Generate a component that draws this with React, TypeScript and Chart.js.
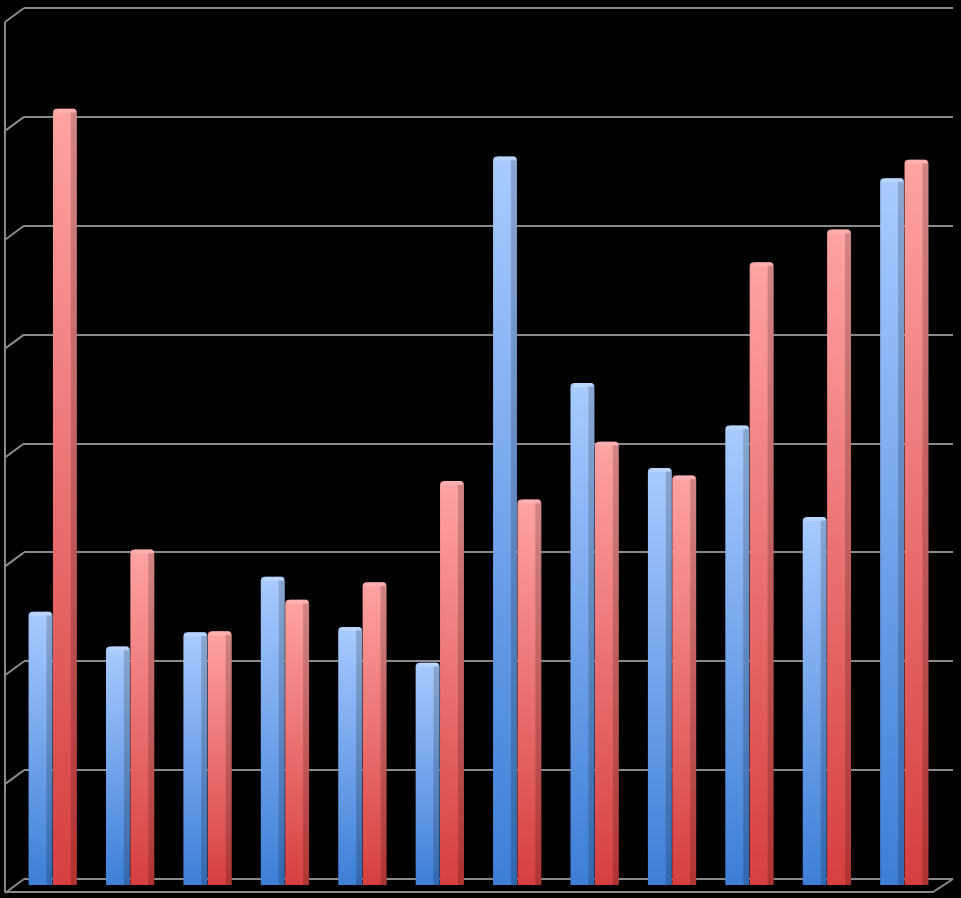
import { useEffect, useRef } from "react";
import { Chart, registerables } from "chart.js";

Chart.register(...registerables);

const categories = ["1", "2", "3", "4", "5", "6", "7", "8", "9", "10", "11", "12"];
const blueValues = [2.52, 2.2, 2.33, 2.84, 2.38, 2.05, 6.7, 4.62, 3.84, 4.23, 3.39, 6.5];
const redValues = [7.14, 3.09, 2.34, 2.63, 2.79, 3.72, 3.55, 4.08, 3.77, 5.73, 6.03, 6.67];
const yTicks = [0, 1, 2, 3, 4, 5, 6, 7, 8];

const GRID = "#8a8a8a";
const DX = -10;
const DY = 7;

function barGradient(chart: Chart, value: number, top: string, bottom: string) {
  const y = chart.scales.y;
  if (!y || !chart.chartArea) return bottom;
  const yTop = y.getPixelForValue(value);
  const yBot = y.getPixelForValue(0);
  const g = chart.ctx.createLinearGradient(0, yTop, 0, yBot);
  g.addColorStop(0, top);
  g.addColorStop(1, bottom);
  return g;
}

const wallPlugin = {
  id: "wall3d",
  beforeDraw(chart: Chart) {
    const { ctx, width, height } = chart;
    ctx.save();
    ctx.fillStyle = "#000";
    ctx.fillRect(0, 0, width, height);
    ctx.restore();
  },
  beforeDatasetsDraw(chart: Chart) {
    const { ctx, chartArea } = chart;
    const y = chart.scales.y;
    ctx.save();
    ctx.strokeStyle = GRID;
    ctx.lineWidth = 2;
    ctx.beginPath();
    // left wall
    ctx.moveTo(5, y.getPixelForValue(8) + 14);
    ctx.lineTo(5, y.getPixelForValue(0) + 13);
    for (const t of yTicks) {
      const py = y.getPixelForValue(t);
      ctx.moveTo(5, py + 14);
      ctx.lineTo(chartArea.left, py);
    }
    // floor front edge
    const by = y.getPixelForValue(0);
    ctx.moveTo(5, by + 13);
    ctx.lineTo(chartArea.right - 20, by + 13);
    ctx.lineTo(chartArea.right, by);
    ctx.stroke();
    ctx.restore();

    ctx.save();
    ctx.translate(DX, DY);
  },
  afterDatasetsDraw(chart: Chart) {
    const { ctx } = chart;
    // side faces and caps of the bars
    chart.data.datasets.forEach((_, di) => {
      const meta = chart.getDatasetMeta(di);
      meta.data.forEach((el: any) => {
        const w = el.width;
        const right = el.x + w / 2;
        const left = el.x - w / 2;
        ctx.fillStyle = "rgba(0,0,0,0.18)";
        ctx.fillRect(right - 6, el.y + 3, 6, el.base - el.y - 3);
        ctx.fillStyle = di === 0 ? "rgba(200,222,255,0.55)" : "rgba(255,190,190,0.55)";
        ctx.beginPath();
        ctx.moveTo(left + 1, el.y + 4);
        ctx.lineTo(left + 5, el.y);
        ctx.lineTo(right - 2, el.y);
        ctx.lineTo(right - 1, el.y + 4);
        ctx.closePath();
        ctx.fill();
      });
    });
    ctx.restore();
  },
};

export default function App() {
  const canvasRef = useRef<HTMLCanvasElement | null>(null);

  useEffect(() => {
    document.body.style.margin = "0";
    document.body.style.background = "#000";
    const canvas = canvasRef.current;
    if (!canvas) return;

    const chart = new Chart(canvas, {
      type: "bar",
      data: {
        labels: categories,
        datasets: [
          {
            label: "Series 1",
            data: blueValues,
            backgroundColor: (c: any) =>
              barGradient(c.chart, blueValues[c.dataIndex] ?? 0, "#a9cbff", "#3d7ed6"),
            borderRadius: { topLeft: 4, topRight: 4, bottomLeft: 0, bottomRight: 0 },
            borderSkipped: "bottom",
            categoryPercentage: 0.63,
            barPercentage: 0.98,
          },
          {
            label: "Series 2",
            data: redValues,
            backgroundColor: (c: any) =>
              barGradient(c.chart, redValues[c.dataIndex] ?? 0, "#ffa3a3", "#d63f3f"),
            borderRadius: { topLeft: 4, topRight: 4, bottomLeft: 0, bottomRight: 0 },
            borderSkipped: "bottom",
            categoryPercentage: 0.63,
            barPercentage: 0.98,
          },
        ],
      },
      options: {
        animation: false,
        responsive: true,
        maintainAspectRatio: false,
        layout: { padding: { left: 24, right: 8, top: 8, bottom: 19 } },
        plugins: {
          legend: { display: false },
          tooltip: { enabled: false },
        },
        scales: {
          x: { display: false },
          y: {
            min: 0,
            max: 8,
            ticks: { display: false, stepSize: 1 },
            border: { display: false },
            grid: { color: GRID, lineWidth: 2, drawTicks: false },
          },
        },
      },
      plugins: [wallPlugin],
    });

    return () => chart.destroy();
  }, []);

  return (
    <div style={{ position: "fixed", left: 0, top: 0, width: 961, height: 898, background: "#000" }}>
      <canvas ref={canvasRef} />
    </div>
  );
}
